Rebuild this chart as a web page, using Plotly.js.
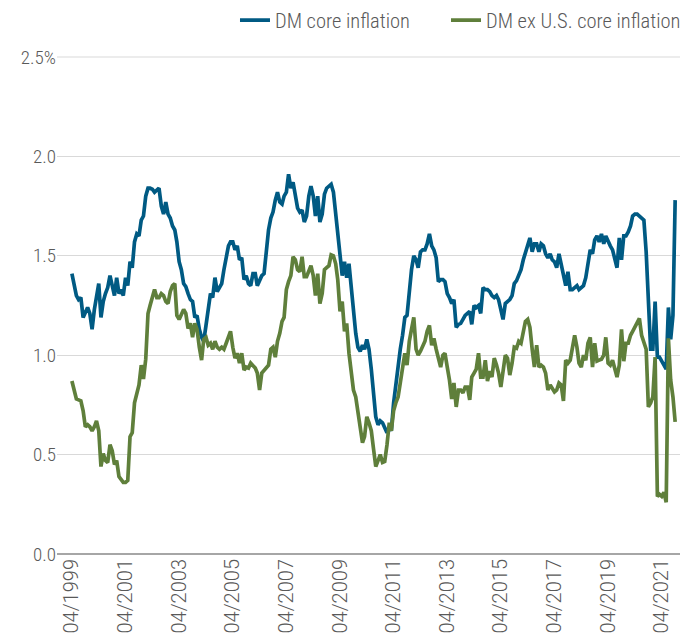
<!DOCTYPE html>
<html>
<head>
<meta charset="utf-8">
<script src="https://cdn.plot.ly/plotly-3.0.1.min.js"></script>
<style>html,body{margin:0;padding:0;background:#fff;}#chart{width:689px;height:643px;}</style>
</head>
<body>
<div id="chart"></div>
<script>
// Monthly series starting 04/1999
const startYear = 1999, startMonth = 4;
const seriesNames = ["DM core inflation", "DM ex U.S. core inflation"];
const dmCore = [
1.41,1.36,1.30,1.28,1.29,1.19,1.22,1.24,1.21,1.13,
1.23,1.30,1.36,1.19,1.27,1.31,1.34,1.40,1.35,1.30,
1.39,1.31,1.33,1.30,1.39,1.35,1.47,1.44,1.57,1.61,
1.60,1.68,1.70,1.80,1.84,1.84,1.835,1.82,1.83,1.84,
1.75,1.71,1.77,1.71,1.69,1.65,1.63,1.57,1.47,1.43,
1.36,1.345,1.31,1.28,1.27,1.19,1.20,1.13,1.09,1.07,
1.15,1.24,1.31,1.29,1.39,1.32,1.34,1.36,1.43,1.50,
1.55,1.57,1.57,1.53,1.55,1.48,1.49,1.38,1.40,1.36,
1.35,1.41,1.41,1.35,1.38,1.40,1.41,1.51,1.63,1.69,
1.72,1.78,1.82,1.77,1.76,1.80,1.82,1.91,1.84,1.87,
1.81,1.74,1.72,1.73,1.67,1.70,1.80,1.85,1.80,1.70,
1.80,1.67,1.71,1.81,1.84,1.85,1.86,1.82,1.71,1.60,
1.50,1.40,1.47,1.39,1.46,1.33,1.23,1.11,1.04,1.02,
1.05,1.03,1.08,1.03,0.93,0.81,0.69,0.65,0.67,0.66,
0.63,0.61,0.64,0.62,0.76,0.86,0.93,1.03,1.10,1.19,
1.20,1.33,1.43,1.50,1.48,1.44,1.52,1.53,1.53,1.56,
1.61,1.55,1.53,1.49,1.37,1.38,1.38,1.37,1.31,1.29,
1.26,1.28,1.14,1.155,1.16,1.18,1.20,1.21,1.22,1.155,
1.25,1.24,1.25,1.21,1.34,1.33,1.33,1.32,1.30,1.29,
1.30,1.28,1.22,1.18,1.26,1.27,1.28,1.30,1.36,1.375,
1.40,1.43,1.48,1.52,1.56,1.59,1.52,1.56,1.56,1.52,
1.56,1.55,1.51,1.49,1.51,1.48,1.47,1.44,1.51,1.46,
1.40,1.35,1.42,1.33,1.33,1.34,1.35,1.33,1.34,1.35,
1.39,1.45,1.53,1.51,1.58,1.60,1.57,1.61,1.56,1.60,
1.57,1.55,1.53,1.48,1.44,1.59,1.48,1.60,1.60,1.62,
1.65,1.70,1.71,1.71,1.70,1.69,1.68,1.52,1.22,1.03,
1.03,1.27,0.99,0.99,0.97,0.95,0.93,1.24,1.08,1.20,
1.78
];
const dmExUS = [
0.87,0.83,0.78,0.775,0.77,0.72,0.64,0.65,0.64,0.62,
0.64,0.67,0.62,0.44,0.505,0.47,0.46,0.55,0.52,0.45,
0.47,0.39,0.37,0.36,0.36,0.37,0.59,0.61,0.76,0.80,
0.85,0.95,0.88,0.98,1.21,1.25,1.30,1.33,1.29,1.29,
1.31,1.30,1.27,1.26,1.32,1.35,1.36,1.20,1.18,1.21,
1.23,1.21,1.135,1.16,1.09,1.16,1.13,1.04,0.975,1.08,
1.09,1.05,1.06,1.03,1.07,1.04,1.03,1.04,1.03,1.06,
1.09,1.12,1.04,0.985,1.01,0.96,1.01,0.925,0.94,0.935,
0.96,0.95,0.935,0.91,0.825,0.91,0.925,0.935,0.95,1.03,
1.04,0.99,1.07,1.11,1.17,1.19,1.33,1.37,1.40,1.495,
1.48,1.43,1.42,1.495,1.395,1.395,1.43,1.45,1.40,1.30,
1.41,1.26,1.31,1.43,1.44,1.45,1.505,1.50,1.46,1.38,
1.22,1.27,1.12,1.16,1.01,0.91,0.825,0.79,0.71,0.62,
0.56,0.59,0.69,0.66,0.62,0.53,0.44,0.47,0.50,0.46,
0.465,0.55,0.66,0.62,0.72,0.76,0.79,0.86,0.94,1.01,
0.95,1.07,1.13,1.19,1.03,1.00,1.02,1.04,1.07,1.12,
1.15,1.05,1.085,1.03,0.99,0.94,1.00,1.01,0.94,0.875,
0.78,0.86,0.74,0.825,0.825,0.81,0.84,0.84,0.775,0.89,
0.91,0.93,1.01,0.89,0.89,0.975,0.87,0.92,0.89,0.985,
0.95,0.91,0.84,0.91,1.00,0.985,0.90,0.96,1.04,1.035,
1.07,1.06,1.11,1.17,1.18,1.14,1.03,0.94,1.05,0.94,
0.95,0.94,0.91,0.825,0.85,0.83,0.815,0.825,0.86,0.85,
0.77,0.975,0.96,0.975,1.04,1.10,1.04,0.96,0.94,1.00,
0.975,1.06,1.09,0.94,1.06,0.97,0.975,0.98,1.00,1.09,
0.96,0.95,0.975,0.925,0.89,0.95,1.13,0.97,1.06,1.06,
1.10,1.12,1.14,1.16,1.185,1.10,1.06,1.03,0.74,0.76,
0.79,0.99,0.29,0.30,0.29,0.31,0.26,1.085,0.875,0.79,
0.665
];
const xTickVals = ["1999-04-01","2001-04-01","2003-04-01","2005-04-01","2007-04-01","2009-04-01","2011-04-01","2013-04-01","2015-04-01","2017-04-01","2019-04-01","2021-04-01"];
const xTickText = ["04/1999","04/2001","04/2003","04/2005","04/2007","04/2009","04/2011","04/2013","04/2015","04/2017","04/2019","04/2021"];
const yTickVals = [0, 0.5, 1.0, 1.5, 2.0, 2.5];
const yTickText = ["0.0", "0.5", "1.0", "1.5", "2.0", "2.5%"];

// month dates for each value
const dates = dmCore.map((_, i) => {
  const t = (startMonth - 1) + i;
  const y = startYear + Math.floor(t / 12);
  const m = (t % 12) + 1;
  return y + "-" + String(m).padStart(2, "0") + "-01";
});

const condensed = "Roboto Condensed, Liberation Sans Narrow, DejaVu Sans Condensed, Roboto, sans-serif";
const textColor = "#595959";
const gridColor = "#d9d9d9";
const legendFont = {family: condensed, size: 20.5, color: textColor, weight: 300};

const traces = [
  {x: dates, y: dmCore, name: seriesNames[0], type: "scatter", mode: "lines",
   line: {color: "#005A83", width: 3.7}, legend: "legend"},
  {x: dates, y: dmExUS, name: seriesNames[1], type: "scatter", mode: "lines",
   line: {color: "#5F7F3B", width: 3.7}, legend: "legend2"}
];

const layout = {
  width: 689, height: 643,
  margin: {l: 57, r: 9, t: 57, b: 89, autoexpand: false},
  paper_bgcolor: "#fff", plot_bgcolor: "#fff",
  showlegend: true,
  legend: {orientation: "h", x: 0.2857, xanchor: "left", y: 1.074, yanchor: "middle",
           font: legendFont, bgcolor: "rgba(0,0,0,0)"},
  legend2: {orientation: "h", x: 0.6244, xanchor: "left", y: 1.074, yanchor: "middle",
           font: legendFont, bgcolor: "rgba(0,0,0,0)"},
  xaxis: {type: "date", range: ["1998-09-10", "2021-12-06"],
          tickmode: "array", tickvals: xTickVals, ticktext: xTickText, tickangle: -90,
          showgrid: false, zeroline: false, showline: false, ticks: "",
          tickfont: {family: "Roboto, sans-serif", size: 20, color: textColor, weight: 300}},
  yaxis: {range: [0, 2.5], tickmode: "array", tickvals: yTickVals, ticktext: yTickText,
          showgrid: true, gridcolor: gridColor, gridwidth: 1,
          zeroline: true, zerolinecolor: "#a6a6a6", zerolinewidth: 1.5,
          showline: false, ticks: "",
          tickfont: {family: condensed, size: 19, color: textColor, weight: 300}},
  shapes: [{type: "line", xref: "paper", x0: 0, x1: 1, yref: "paper", y0: 1, y1: 1,
            line: {color: gridColor, width: 1.2}, layer: "above"}],
  hovermode: false
};

Plotly.newPlot("chart", traces, layout, {displayModeBar: false, staticPlot: true});
</script>
</body>
</html>
